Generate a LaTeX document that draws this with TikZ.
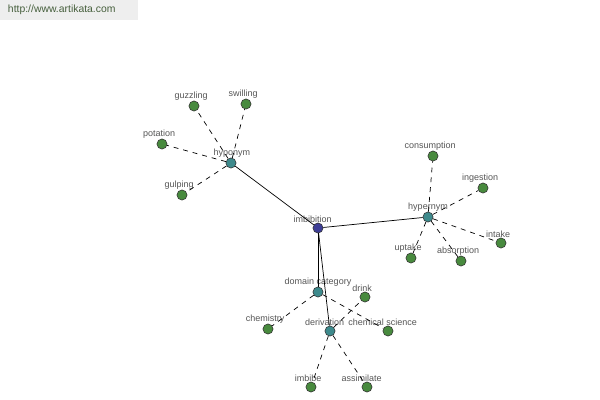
\documentclass[tikz,border=0pt]{standalone}
\usepackage{fontspec}
\setmainfont{Liberation Sans}
\definecolor{hubblue}{RGB}{62,62,150}
\definecolor{midteal}{RGB}{62,138,140}
\definecolor{leafgreen}{RGB}{72,138,62}
\definecolor{labelgray}{RGB}{85,85,85}
\definecolor{headgray}{RGB}{238,238,238}
\definecolor{headtext}{RGB}{70,95,60}
\tikzset{
  word/.style={circle, draw=black!80, line width=0.4pt, minimum size=7.2pt, inner sep=0pt},
  hub/.style={word, fill=hubblue},
  rel/.style={word, fill=midteal},
  leaf/.style={word, fill=leafgreen},
  tag/.style={text=labelgray, font=\fontsize{6.4}{7}\selectfont, inner sep=0.5pt, label distance=-0.3pt, xshift=-2pt},
  far/.style={xshift=-1.8pt},
  strong/.style={line width=0.5pt, black},
  weak/.style={line width=0.5pt, black, dash pattern=on 3.5pt off 3.5pt}
}
\begin{document}
\begin{tikzpicture}[x=0.025cm, y=-0.025cm]
            \useasboundingbox (0,0) rectangle (600,400);
            % Header
            \fill[headgray] (0,0) rectangle (138,20);
            \node[anchor=west, text=headtext, font=\fontsize{7.4}{8}\selectfont] (site) at (3,10) {http://www.artikata.com};

            % Center word
            \node[hub, label={[tag, far]above:imbibition}] (imbibition) at (318,228) {};

            % Relations
            \node[rel, label={[tag, xshift=2.7pt]above:hyponym}] (hyponym) at (231,163) {};
            \node[rel, label={[tag, xshift=2pt]above:hypernym}] (hypernym) at (428,217) {};
            \node[rel, label={[tag, xshift=2pt]above:domain category}] (domain) at (318,292) {};
            \node[rel, label={[tag, far]above:derivation}] (derivation) at (330,331) {};

            % Hyponym leaves
            \node[leaf, label={[tag]above:guzzling}] (guzzling) at (194,106) {};
            \node[leaf, label={[tag]above:swilling}] (swilling) at (246,104) {};
            \node[leaf, label={[tag]above:potation}] (potation) at (162,144) {};
            \node[leaf, label={[tag]above:gulping}] (gulping) at (182,195) {};

            % Hypernym leaves
            \node[leaf, label={[tag]above:consumption}] (consumption) at (433,156) {};
            \node[leaf, label={[tag]above:ingestion}] (ingestion) at (483,188) {};
            \node[leaf, label={[tag]above:intake}] (intake) at (501,243) {};
            \node[leaf, label={[tag]above:uptake}] (uptake) at (411,258) {};
            \node[leaf, label={[tag]above:absorption}] (absorption) at (461,261) {};

            % Domain leaves
            \node[leaf, label={[tag]above:chemistry}] (chemistry) at (268,329) {};
            \node[leaf, label={[tag, far]above:chemical science}] (chemsci) at (388,331) {};

            % Derivation leaves
            \node[leaf, label={[tag]above:drink}] (drink) at (365,297) {};
            \node[leaf, label={[tag]above:imbibe}] (imbibe) at (311,387) {};
            \node[leaf, label={[tag, far]above:assimilate}] (assimilate) at (367,387) {};

            % Solid links
            \draw[strong] (imbibition) -- (hyponym);
            \draw[strong] (imbibition) -- (hypernym);
            \draw[strong] (imbibition) -- (domain);
            \draw[strong] (imbibition) -- (derivation);

            % Dashed links
            \foreach \w in {guzzling, swilling, potation, gulping}
                \draw[weak] (hyponym) -- (\w);
            \foreach \w in {consumption, ingestion, intake, uptake, absorption}
                \draw[weak] (hypernym) -- (\w);
            \foreach \w in {chemistry, chemsci}
                \draw[weak] (domain) -- (\w);
            \foreach \w in {drink, imbibe, assimilate}
                \draw[weak] (derivation) -- (\w);
        \end{tikzpicture}
\end{document}
